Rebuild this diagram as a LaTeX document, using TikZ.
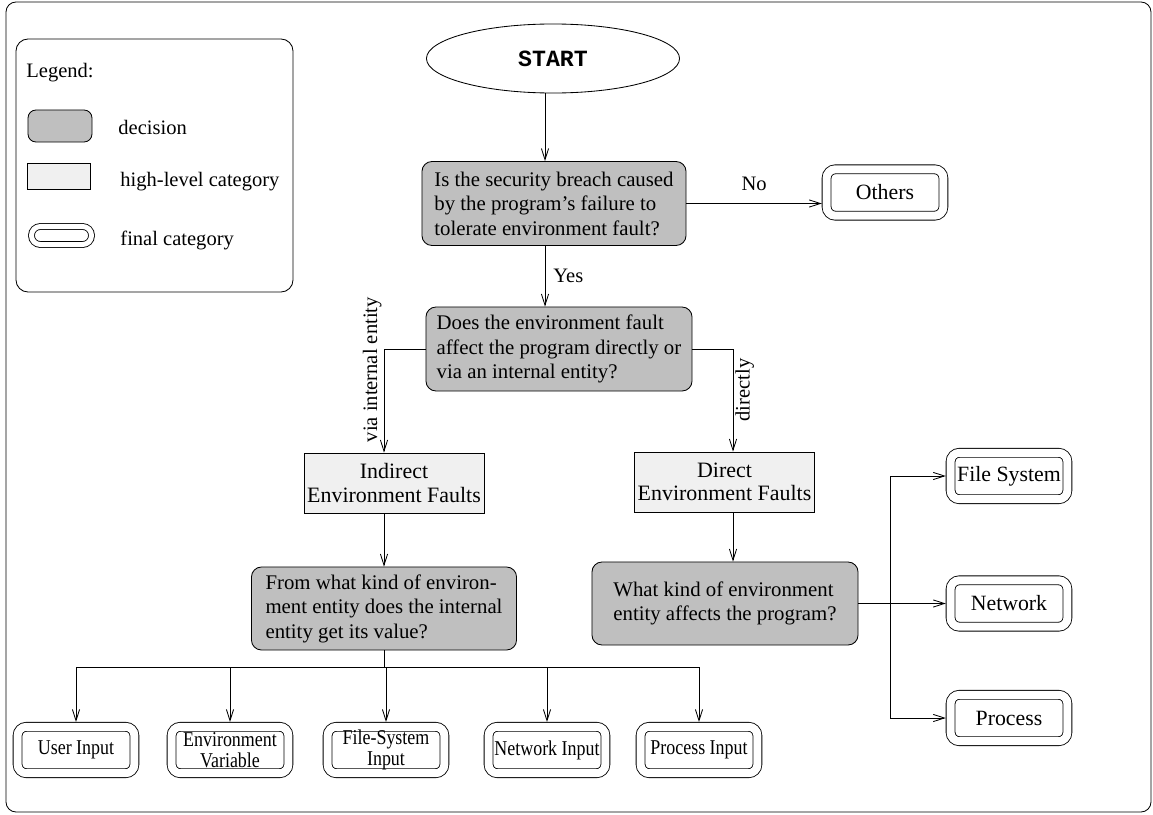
\documentclass[tikz,border=0pt]{standalone}
\usepackage{fontspec}
\setmainfont{Liberation Serif}
\setmonofont{Liberation Mono}
\newfontfamily\narrowserif[FakeStretch=0.85]{Liberation Serif}
\usetikzlibrary{arrows.meta,shapes.geometric}
\definecolor{decgray}{gray}{0.75}
\definecolor{highgray}{gray}{0.94}

\begin{document}
\begin{tikzpicture}[x=0.025cm,y=-0.025cm,line width=0.6pt,
  arr/.style={-{Straight Barb[length=0.28cm,width=0.18cm]}},
  decision/.style={draw,rounded corners=0.25cm,fill=decgray,minimum width=6.6cm,
    minimum height=2.1cm,align=left,font=\fontsize{14.8}{17.4}\selectfont},
  highcat/.style={draw,fill=highgray,minimum width=4.5cm,minimum height=1.5cm,
    align=center,inner sep=0pt,font=\fontsize{15.6}{16.6}\selectfont},
  finalcat/.style={draw,double,double distance=0.2cm,rounded corners=0.22cm,
    minimum width=2.92cm,minimum height=1.16cm,outer sep=0.12cm,inner sep=0pt,
    font=\fontsize{15.5}{16}\selectfont},
  finalsmall/.style={finalcat,align=center,font=\narrowserif\fontsize{15}{14.5}\selectfont},
  lbl/.style={inner sep=0.05cm,font=\fontsize{14.6}{17}\selectfont}]
\useasboundingbox (0,0) rectangle (1153,815);
\draw[rounded corners=0.25cm] (6,2) rectangle (1151,812);

% legend
\draw[rounded corners=0.3cm] (16,39) rectangle (293,292);
\node[lbl,anchor=west] (legtitle) at (24,73) {Legend:};
\node[decision,minimum width=1.6cm,minimum height=0.8cm,rounded corners=0.2cm] (legdec) at (60,126) {};
\node[lbl,anchor=west] (legdectxt) at (116,127) {decision};
\node[highcat,minimum width=1.575cm,minimum height=0.65cm] (leghigh) at (59,176) {};
\node[lbl,anchor=west] (leghightxt) at (118,182) {high-level category};
\node[finalcat,double distance=0.125cm,minimum width=1.5cm,minimum height=0.45cm] (legfin) at (61.5,235.5) {};
\node[lbl,anchor=west] (legfintxt) at (118,240) {final category};

% helper lines
\coordinate (spine) at (545,0);
\coordinate (dline) at (733,0);
\coordinate (bus) at (0,667);
\coordinate (rbus) at (890,0);

\node[ellipse,draw,minimum width=6.325cm,minimum height=1.725cm,inner sep=0pt,
  font=\ttfamily\bfseries\fontsize{16.5}{18}\selectfont] (start) at (553,58.5) {START};
\node[decision] (q1) at (554,203.5) {Is the security breach caused\\by the program's failure to\\tolerate environment fault?};
\node[finalcat] (others) at (885,192.5) {Others};
\node[decision,minimum width=6.65cm] (q2) at (559,349) {Does the environment fault\\affect the program directly or\\via an internal entity?};
\node[highcat] (indirect) at (394,483) {Indirect\\Environment Faults};
\node[highcat] (direct) at (724.5,482) {Direct\\Environment Faults};
\node[decision,minimum width=6.625cm,minimum height=2.075cm] (q3) at (384,608.5) {From what kind of environ-\\ment entity does the internal\\entity get its value?};
\node[decision,minimum width=6.65cm,minimum height=2.075cm] (q4) at (725,603.5) {What kind of environment\\entity affects the program?};

\node[finalsmall] (ui) at (76,750) {User Input};
\node[finalsmall] (ev) at (230,750) {Environment\\Variable};
\node[finalsmall] (fsi) at (386,750) {File-System\\Input};
\node[finalsmall] (ni) at (547,750) {Network Input};
\node[finalsmall] (pi) at (699,750) {Process Input};

\node[finalcat] (fsys) at (1009,476) {File System};
\node[finalcat] (net) at (1009,603.5) {Network};
\node[finalcat] (proc) at (1009,718) {Process};

\draw[arr] (start.south -| spine) -- (q1.north -| spine);
\draw[arr] (q1.east) -- (q1.east -| others.west) node[lbl,midway,above=0.27cm] (no) {No};
\draw[arr] (q1.south -| spine) -- (q2.north -| spine) node[lbl,midway,right=0.15cm] (yes) {Yes};
\draw[arr] (q2.west) -| (q3.north |- indirect.north) node[lbl,pos=0.6,rotate=90,anchor=south] (via) {via internal entity};
\draw[arr] (q2.east) -| (dline |- direct.north) node[lbl,pos=0.7,rotate=90,anchor=north] (dir) {directly};
\draw[arr] (q3.north |- indirect.south) -- (q3.north);
\draw[arr] (dline |- direct.south) -- (dline |- q4.north);

\draw (q3.south) -- (q3.south |- bus);
\draw (ui.north |- bus) -- (pi.north |- bus);
\foreach \b in {ui,ev,fsi,ni,pi}
  \draw[arr] (\b.north |- bus) -- (\b.north);

\draw[arr] (q4.east) -- (q4.east -| net.west);
\draw (fsys.west -| rbus) -- (proc.west -| rbus);
\draw[arr] (fsys.west -| rbus) -- (fsys.west);
\draw[arr] (proc.west -| rbus) -- (proc.west);
\end{tikzpicture}
\end{document}
